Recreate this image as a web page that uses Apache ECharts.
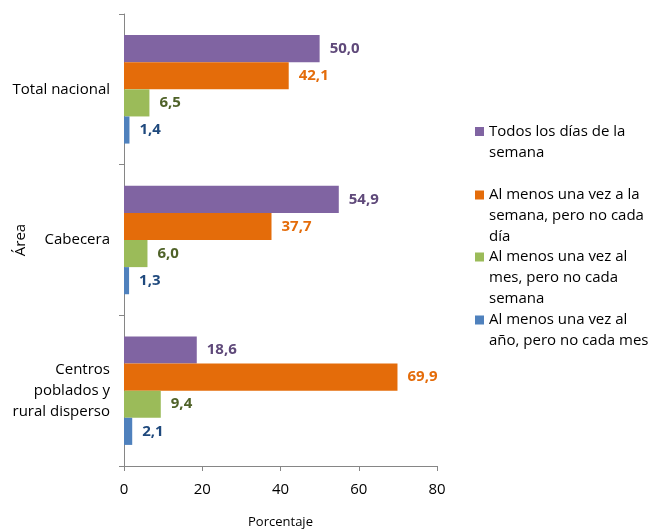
<!DOCTYPE html>
<html>
<head>
<meta charset="utf-8">
<script src="https://cdn.jsdelivr.net/npm/echarts@6/dist/echarts.min.js"></script>
<style>
    html, body { margin: 0; padding: 0; background: #fff; }
    #chart { width: 650px; height: 529px; }
</style>
</head>
<body>
<div id="chart"></div>
<script>
// categories top to bottom
const areas = ['Total nacional', 'Cabecera', 'Centros\npoblados y\nrural disperso'];
const seriesNames = [
    'Todos los días de la semana',
    'Al menos una vez a la semana, pero no cada día',
    'Al menos una vez al mes, pero no cada semana',
    'Al menos una vez al año, pero no cada mes'
];
const legendLines = [
    ['Todos los días de la', 'semana'],
    ['Al menos una vez a la', 'semana, pero no cada', 'día'],
    ['Al menos una vez al', 'mes, pero no cada', 'semana'],
    ['Al menos una vez al', 'año, pero no cada mes']
];
const todosLosDias = [50.0, 54.9, 18.6];
const unaVezSemana = [42.1, 37.7, 69.9];
const unaVezMes = [6.5, 6.0, 9.4];
const unaVezAnio = [1.4, 1.3, 2.1];
const xTicks = [0, 20, 40, 60, 80];

const values = [todosLosDias, unaVezSemana, unaVezMes, unaVezAnio];
const barColors = ['#8064A2', '#E46C0A', '#9BBB59', '#4F81BD'];
const labelColors = ['#5F497A', '#E46C0A', '#4F6228', '#1F497D'];
const legendTops = [121, 184.5, 246.5, 309.5];

const font = '"Open Sans", "Liberation Sans", sans-serif';
const fs = 15;
const lineH = 21;
const sq = 9;

const chart = echarts.init(document.getElementById('chart'));

// square icon pinned to the top of a taller (invisible) box, so it sits on the first text line
function topIcon(n) {
    const h = sq + (n - 1) * lineH;
    return { icon: 'path://M0,0h' + sq + 'v' + sq + 'h-' + sq + 'zM0,' + h + 'h' + sq, h: h };
}

const option = {
    animation: false,
    textStyle: { fontFamily: font },
    grid: { left: 124, right: 213, top: 14, bottom: 63, outerBoundsMode: 'none' },
    legend: legendLines.map((lines, i) => {
        const ic = topIcon(lines.length);
        return {
            left: 475,
            top: legendTops[i],
            padding: 0,
            itemWidth: sq,
            itemHeight: ic.h,
            icon: ic.icon,
            data: [seriesNames[i]],
            formatter: () => lines.join('\n'),
            textStyle: {
                fontFamily: font,
                fontSize: fs,
                color: '#000',
                lineHeight: lineH
            }
        };
    }),
    xAxis: {
        type: 'value',
        min: 0,
        max: 80,
        interval: 20,
        name: 'Porcentaje',
        nameLocation: 'middle',
        nameGap: 50,
        nameMoveOverlap: false,
        nameTextStyle: { fontFamily: font, fontSize: 13, color: '#000' },
        axisLine: { show: true, lineStyle: { color: '#868686' } },
        axisTick: { show: true, length: 5, lineStyle: { color: '#868686' } },
        axisLabel: {
            fontFamily: font, fontSize: fs, color: '#000', margin: 16,
            formatter: v => xTicks.includes(v) ? String(v) : ''
        },
        splitLine: { show: false }
    },
    yAxis: {
        type: 'category',
        inverse: true,
        data: areas.map((a, i) => ({
            value: a,
            textStyle: { padding: i === 2 ? [20, 0, 0, 0] : [6, 0, 0, 0] }
        })),
        name: 'Área',
        nameLocation: 'middle',
        nameRotate: 90,
        nameGap: 96,
        nameMoveOverlap: false,
        nameTextStyle: { fontFamily: font, fontSize: fs, color: '#000' },
        axisLine: { lineStyle: { color: '#868686' } },
        axisTick: { show: true, length: 5, lineStyle: { color: '#868686' } },
        axisLabel: {
            fontFamily: font, fontSize: fs, color: '#000', margin: 14,
            lineHeight: 21, align: 'right'
        }
    },
    series: values.map((vals, i) => ({
        type: 'bar',
        name: seriesNames[i],
        data: vals,
        barGap: '0%',
        barCategoryGap: '28%',
        itemStyle: { color: barColors[i] },
        label: {
            show: true,
            position: 'right',
            distance: 10,
            fontFamily: font,
            fontSize: fs,
            fontWeight: 'bold',
            color: labelColors[i],
            formatter: p => p.value.toFixed(1).replace('.', ',')
        }
    }))
};

chart.setOption(option);
</script>
</body>
</html>
